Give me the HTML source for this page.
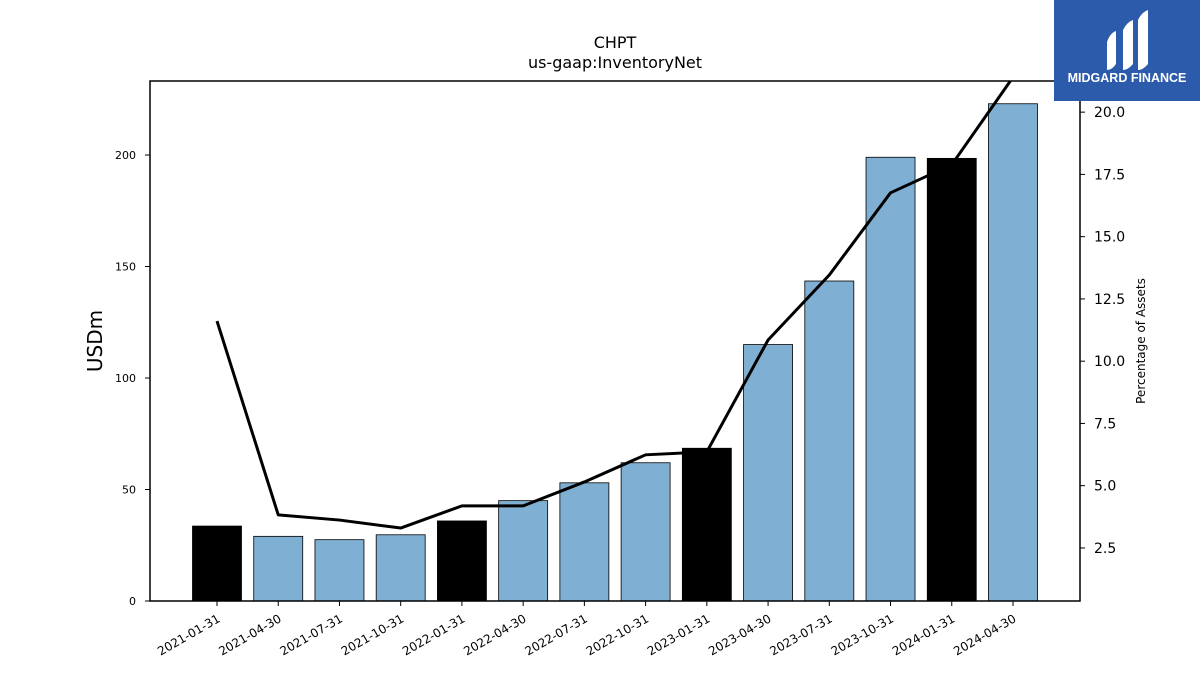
<!DOCTYPE html>
<html><head><meta charset="utf-8"><style>
body{margin:0;background:#fff;font-family:"Liberation Sans","DejaVu Sans",sans-serif;}
svg text{font-family:"DejaVu Sans","Liberation Sans",sans-serif;}
</style></head><body>
<svg id="chart" width="1200" height="675" xmlns="http://www.w3.org/2000/svg">
<rect width="1200" height="675" fill="#fff"/>
<text x="615" y="48" text-anchor="middle" font-size="16">CHPT</text>
<text x="615" y="68" text-anchor="middle" font-size="16">us-gaap:InventoryNet</text>
<g id="bars"></g>
<g id="line"></g>
<g id="axes"></g>
<rect x="150" y="81" width="930" height="520" fill="none" stroke="#000" stroke-width="1.5"/>
<text transform="translate(102,341) rotate(-90)" text-anchor="middle" font-size="20">USDm</text>
<text transform="translate(1145,341) rotate(-90)" text-anchor="middle" font-size="12">Percentage of Assets</text>
<g>
<rect x="1054" y="0" width="146" height="101" fill="#2d5bab"/>
<path d="M1107 42 Q1110 33 1116 31 L1116 64 Q1112 70 1107 70 Z" fill="#fff"/>
<path d="M1123 30 Q1127 22 1133 20 L1133 64 Q1128 70 1123 70 Z" fill="#fff"/>
<path d="M1138 20 Q1142 12 1148 10 L1148 64 Q1143 70 1138 70 Z" fill="#fff"/>
<text x="1127" y="82" text-anchor="middle" font-size="12.5" font-weight="bold" fill="#fff" style="font-family:'Liberation Sans',sans-serif">MIDGARD FINANCE</text>
</g>
</svg>
<script>
const categories=["2021-01-31","2021-04-30","2021-07-31","2021-10-31","2022-01-31","2022-04-30","2022-07-31","2022-10-31","2023-01-31","2023-04-30","2023-07-31","2023-10-31","2024-01-31","2024-04-30"];
const inventoryValues=[33.6,29,27.5,29.7,35.9,45,53,62,68.5,115,143.5,199,198.5,223];
const pctAssets=[11.61,3.83,3.62,3.30,4.19,4.19,5.15,6.24,6.36,10.85,13.46,16.76,17.89,21.4];
const quarterEnd=[true,false,false,false,true,false,false,false,true,false,false,false,true,false];
const leftTicks=[0,50,100,150,200];
const rightTicks=[2.5,5.0,7.5,10.0,12.5,15.0,17.5,20.0];
const NS="http://www.w3.org/2000/svg";
const X0=150,X1=1080,Y0=601,Y1=81;
const yMax=233.2, rMin=0.37, rMax=21.25;
const step=(X1-X0)/(categories.length+0.19);
function xPos(i){return 217+i*61.23;}
function yL(v){return Y0-(v/yMax)*(Y0-Y1);}
function yR(v){return Y0-(v-rMin)/(rMax-rMin)*(Y0-Y1);}
function mk(tag,attrs,parent){const e=document.createElementNS(NS,tag);for(const k in attrs)e.setAttribute(k,attrs[k]);parent.appendChild(e);return e;}
const bars=document.getElementById('bars'),line=document.getElementById('line'),axes=document.getElementById('axes');
const bw=49;
inventoryValues.forEach((v,i)=>{
  const r=mk('rect',{x:xPos(i)-bw/2,y:yL(v),width:bw,height:Y0-yL(v),fill:quarterEnd[i]?'#000':'#7fb0d3',stroke:'#000','stroke-width':0.8},bars);
  
  
});
const clip=mk('clipPath',{id:'pc'},document.getElementById('chart'));
mk('rect',{x:X0,y:Y1,width:X1-X0,height:Y0-Y1},clip);
const pts=pctAssets.map((v,i)=>xPos(i)+','+yR(v)).join(' ');
const pl=mk('polyline',{points:pts,fill:'none',stroke:'#000','stroke-width':3,'clip-path':'url(#pc)','stroke-linejoin':'round'},line);


leftTicks.forEach(t=>{
  const y=yL(t);
  mk('line',{x1:X0-5,x2:X0,y1:y,y2:y,stroke:'#000','stroke-width':1},axes);
  const tx=mk('text',{x:X0-14,y:y+4,'text-anchor':'end','font-size':11},axes);
  tx.textContent=t;
  
  
});
rightTicks.forEach(t=>{
  const y=yR(t);
  mk('line',{x1:X1,x2:X1+5,y1:y,y2:y,stroke:'#000','stroke-width':1},axes);
  const tx=mk('text',{x:X1+14,y:y+5,'font-size':14},axes);
  tx.textContent=t.toFixed(1);
  
  
});
categories.forEach((c,i)=>{
  const x=xPos(i);
  mk('line',{x1:x,x2:x,y1:Y0,y2:Y0+5,stroke:'#000','stroke-width':1},axes);
  const tx=mk('text',{x:x+4,y:Y0+20,'text-anchor':'end','font-size':12,transform:'rotate(-30 '+(x+4)+' '+(Y0+20)+')'},axes);
  tx.textContent=c;
  
  
});
</script>
</body></html>
